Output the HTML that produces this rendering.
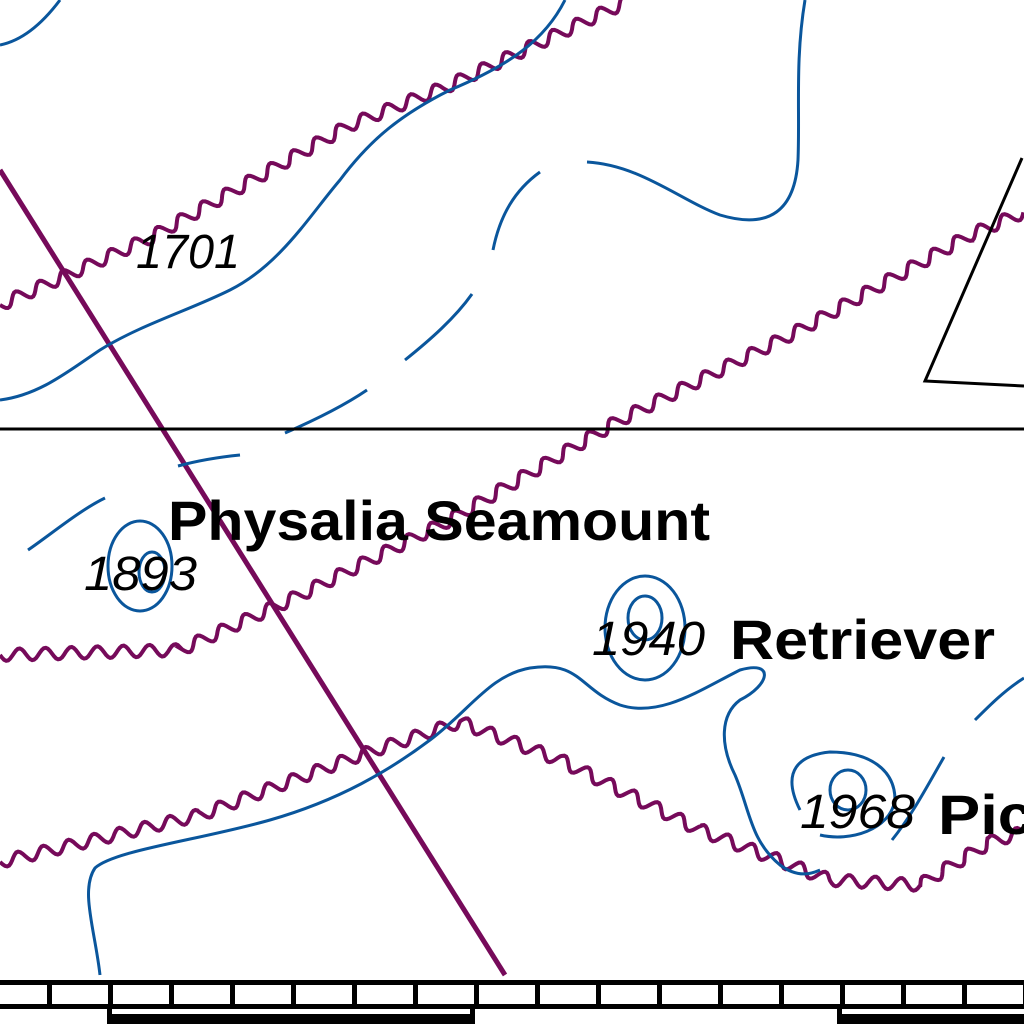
<!DOCTYPE html>
<html><head><meta charset="utf-8"><style>
html,body{margin:0;padding:0;background:#fff;width:1024px;height:1024px;overflow:hidden}
svg{display:block}
.lbl{font-family:"Liberation Sans",sans-serif;fill:#000;font-weight:bold}
.num{font-family:"Liberation Sans",sans-serif;font-style:italic;fill:#000;font-size:48px}
.c{fill:none;stroke:#0a569c;stroke-width:3}
.w{fill:none;stroke:#760a5a;stroke-width:4;stroke-linejoin:miter}
</style></head><body>
<svg id="map" width="1024" height="1024" viewBox="0 0 1024 1024">
<g id="waves"></g>
<line x1="0" y1="170" x2="505" y2="975" stroke="#760a5a" stroke-width="5"/>
<g>
<path class="c" d="M0,45 C25,40 45,20 60,0"/>
<path class="c" d="M0,400 C40,395 70,370 100,350 C140,325 190,310 230,290 C280,265 310,215 340,180 C370,140 400,115 450,90 C510,65 545,40 565,0"/>
<path class="c" d="M493,250 C500,215 515,190 540,172"/>
<path class="c" d="M587,162 C640,165 680,200 720,215 C770,230 795,210 798,160 C800,110 795,60 805,0"/>
<path class="c" d="M405,360 C430,340 455,318 472,294"/>
<path class="c" d="M285,433 C315,420 345,405 367,390"/>
<path class="c" d="M178,466 C200,460 220,457 240,455"/>
<path class="c" d="M28,550 C50,535 80,510 105,498"/>
<ellipse class="c" cx="140" cy="566" rx="32" ry="45"/>
<ellipse class="c" cx="152" cy="572" rx="13" ry="20"/>
<ellipse class="c" cx="645" cy="628" rx="40" ry="52"/>
<ellipse class="c" cx="645" cy="618" rx="17" ry="22"/>
<path class="c" d="M100,975 C95,930 80,890 95,868 C115,850 200,840 270,820 C340,800 390,770 430,740 C470,710 490,675 530,668 C580,660 580,690 620,705 C660,718 700,690 740,670 C775,660 770,685 740,700 C720,715 720,745 735,775 C750,810 750,840 780,865 C800,880 815,872 820,870"/>
<path class="c" d="M800,810 C780,770 800,755 830,752 C870,752 895,770 895,800 C890,830 850,842 820,835"/>
<ellipse class="c" cx="848" cy="790" rx="18" ry="20"/>
<path class="c" d="M944,757 C925,790 912,815 892,840"/>
<path class="c" d="M975,720 C990,705 1005,690 1024,678"/>
</g>
<line x1="0" y1="429" x2="1024" y2="429" stroke="#000" stroke-width="3"/>
<path d="M1022,158 L925,381 L1024,386" fill="none" stroke="#000" stroke-width="3"/>
<text class="num" x="136" y="268" textLength="104" lengthAdjust="spacingAndGlyphs">1701</text>
<text class="num" x="84" y="590" textLength="113" lengthAdjust="spacingAndGlyphs">1893</text>
<text class="num" x="592" y="655" textLength="113" lengthAdjust="spacingAndGlyphs">1940</text>
<text class="num" x="800" y="828" textLength="115" lengthAdjust="spacingAndGlyphs">1968</text>
<text class="lbl" x="168" y="540" font-size="56" textLength="542" lengthAdjust="spacingAndGlyphs">Physalia Seamount</text>
<text class="lbl" x="730" y="659" font-size="56" textLength="265" lengthAdjust="spacingAndGlyphs">Retriever</text>
<text class="lbl" x="938" y="834" font-size="56" textLength="95" lengthAdjust="spacingAndGlyphs">Pic</text>
<g id="scale" fill="#000"></g>
</svg>
<script>
const wavyLines=[
 [[0,305],[150,238],[350,125],[450,85],[630,0]],
 [[0,655],[180,650],[290,600],[450,520],[620,420],[800,330],[970,235],[1024,212]],
 [[0,862],[200,815],[360,755],[460,722],[560,760],[700,830],[830,880],[920,885],[990,842],[1024,832]]
];
const g=document.getElementById('waves');
wavyLines.forEach((pts,i)=>{
 let d='';let t=0;
 for(let k=0;k<pts.length-1;k++){
  const [x1,y1]=pts[k],[x2,y2]=pts[k+1];
  const L=Math.hypot(x2-x1,y2-y1),ux=(x2-x1)/L,uy=(y2-y1)/L,nx=-uy,ny=ux;
  for(let s=0;s<=L;s+=2){
   const a=Math.sin((t+s)/26*2*Math.PI)*6;
   const x=x1+ux*s+nx*a,y=y1+uy*s+ny*a;
   d+=(d?'L':'M')+x.toFixed(1)+','+y.toFixed(1);
  }
  t+=L;
 }
 const p=document.createElementNS('http://www.w3.org/2000/svg','path');
 p.setAttribute('d',d);p.setAttribute('class','w');
 
 
 g.appendChild(p);
});
const sc=document.getElementById('scale');
function r(x,y,w,h){const e=document.createElementNS('http://www.w3.org/2000/svg','rect');e.setAttribute('x',x);e.setAttribute('y',y);e.setAttribute('width',w);e.setAttribute('height',h);


sc.appendChild(e);}
r(0,980,1024,5);r(0,1004,1024,5);
for(let x=47;x<1024;x+=61){r(x,980,5,28);}
r(107,1008,5,16);r(470,1008,5,16);r(107,1014,368,10);
r(837,1008,5,16);r(837,1014,187,10);
</script>
</body></html>
